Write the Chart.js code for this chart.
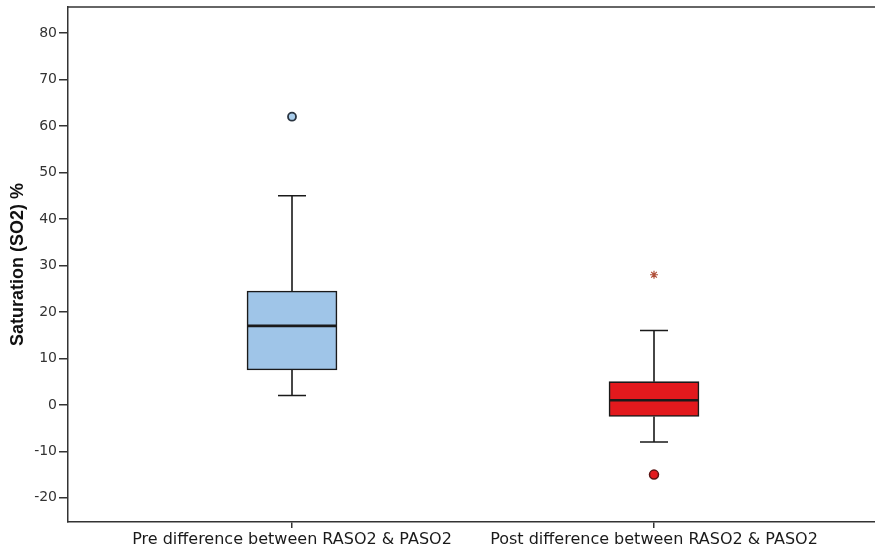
<!DOCTYPE html>
<html>
<head>
<meta charset="utf-8">
<script src="https://cdn.jsdelivr.net/npm/chart.js@4"></script>
<style>
  html, body { margin: 0; padding: 0; background: #fff; overflow: hidden; }
  #wrap { width: 875px; height: 552px; }
</style>
</head>
<body>
<div id="wrap"><canvas id="chart-box" width="875" height="552"></canvas></div>
<script>
// categories (x positions 1 and 2)
const categories = ["Pre difference between RASO2 & PASO2", "Post difference between RASO2 & PASO2"];
const positions = [1, 2];

// box plot statistics
const whiskerLow = [2, -8];
const q1 = [7.5, -2.5];
const median = [17, 1];
const q3 = [24.5, 5];
const whiskerHigh = [45, 16];

// outliers (circle) and extremes (star)
const outliersPre = [62];
const outliersPost = [-15];
const extremesPost = [28];

// y tick labels
const yTicks = [-20, -10, 0, 10, 20, 30, 40, 50, 60, 70, 80];

const boxColors = ["#9fc5e8", "#e3191d"];

const ctx = document.getElementById("chart-box").getContext("2d");

// whiskers + median line
const boxExtras = {
  id: "boxExtras",
  afterDatasetsDraw(chart) {
    const { ctx, scales: { x, y } } = chart;
    ctx.save();
    ctx.strokeStyle = "#1a1a1a";
    positions.forEach((p, i) => {
      const cx = x.getPixelForValue(p);
      const half = 45;
      const cap = 14;
      ctx.lineWidth = 1.6;
      ctx.beginPath();
      // upper whisker
      ctx.moveTo(cx, y.getPixelForValue(q3[i]));
      ctx.lineTo(cx, y.getPixelForValue(whiskerHigh[i]));
      ctx.moveTo(cx - cap, y.getPixelForValue(whiskerHigh[i]));
      ctx.lineTo(cx + cap, y.getPixelForValue(whiskerHigh[i]));
      // lower whisker
      ctx.moveTo(cx, y.getPixelForValue(q1[i]));
      ctx.lineTo(cx, y.getPixelForValue(whiskerLow[i]));
      ctx.moveTo(cx - cap, y.getPixelForValue(whiskerLow[i]));
      ctx.lineTo(cx + cap, y.getPixelForValue(whiskerLow[i]));
      ctx.stroke();
      // median
      ctx.lineWidth = 2.6;
      ctx.beginPath();
      ctx.moveTo(cx - half, y.getPixelForValue(median[i]));
      ctx.lineTo(cx + half, y.getPixelForValue(median[i]));
      ctx.stroke();
    });
    ctx.restore();
  },
};

// top border of the frame
const topBorder = {
  id: "topBorder",
  afterDraw(chart) {
    const { ctx, chartArea: { top, left, right } } = chart;
    ctx.save();
    ctx.strokeStyle = "#333";
    ctx.lineWidth = 1.5;
    ctx.beginPath();
    ctx.moveTo(left, top);
    ctx.lineTo(right, top);
    ctx.stroke();
    ctx.restore();
  },
};

new Chart(ctx, {
  type: "bar",
  data: {
    datasets: [
      {
        label: "box",
        data: positions.map((p, i) => ({ x: p, y: [q1[i], q3[i]] })),
        backgroundColor: boxColors,
        borderColor: "#1a1a1a",
        borderWidth: 1.6,
        borderSkipped: false,
        barThickness: 90,
        order: 2,
      },
      {
        type: "bubble",
        label: "outliers pre",
        data: outliersPre.map((v) => ({ x: positions[0], y: v })),
        pointStyle: "circle",
        radius: 4,
        backgroundColor: "#a9cdeb",
        borderColor: "#2a3440",
        borderWidth: 1.8,
        order: 1,
      },
      {
        type: "bubble",
        label: "outliers post",
        data: outliersPost.map((v) => ({ x: positions[1], y: v })),
        pointStyle: "circle",
        radius: 4.5,
        backgroundColor: "#e3191d",
        borderColor: "#5a1212",
        borderWidth: 1.5,
        order: 1,
      },
      {
        type: "bubble",
        label: "extremes post",
        data: extremesPost.map((v) => ({ x: positions[1], y: v })),
        pointStyle: "star",
        radius: 4,
        backgroundColor: "#b0503a",
        borderColor: "#b0503a",
        borderWidth: 1.2,
        order: 1,
      },
    ],
  },
  options: {
    responsive: false,
    animation: false,
    layout: { autoPadding: false, padding: { top: 7, right: 0, bottom: 0, left: 0 } },
    plugins: { legend: { display: false }, tooltip: { enabled: false } },
    scales: {
      x: {
        type: "linear",
        offset: false,
        min: 0.3812,
        max: 2.6105,
        afterBuildTicks: (scale) => {
          scale.ticks = positions.map((v) => ({ value: v }));
        },
        afterFit: (scale) => {
          scale.height = 30;
          scale.paddingLeft = 0;
          scale.paddingRight = 0;
        },
        grid: {
          offset: false,
          drawOnChartArea: false,
          drawTicks: true,
          tickLength: 6,
          color: "#333",
          lineWidth: 1.5,
        },
        border: { display: true, color: "#333", width: 1.5 },
        ticks: {
          autoSkip: false,
          maxRotation: 0,
          padding: 2,
          color: "#1a1a1a",
          font: { family: "'DejaVu Sans', sans-serif", size: 16 },
          callback: (v) => categories[positions.indexOf(v)] ?? "",
        },
      },
      y: {
        min: -25.2,
        max: 85.6,
        afterBuildTicks: (scale) => {
          scale.ticks = yTicks.map((v) => ({ value: v }));
        },
        afterFit: (scale) => {
          scale.width = 68;
          scale.paddingTop = 0;
          scale.paddingBottom = 0;
        },
        grid: {
          drawOnChartArea: false,
          drawTicks: true,
          tickLength: 9,
          color: "#333",
          lineWidth: 1.5,
        },
        border: { display: true, color: "#333", width: 1.5 },
        ticks: {
          padding: 2,
          color: "#333",
          font: { family: "'DejaVu Sans', sans-serif", size: 14 },
        },
        title: {
          display: true,
          text: "Saturation (SO2) %",
          color: "#111",
          padding: { top: 7, bottom: 0 },
          font: { family: "'Liberation Sans', Arial, sans-serif", size: 18, weight: "bold" },
        },
      },
    },
  },
  plugins: [boxExtras, topBorder],
});
</script>
</body>
</html>
